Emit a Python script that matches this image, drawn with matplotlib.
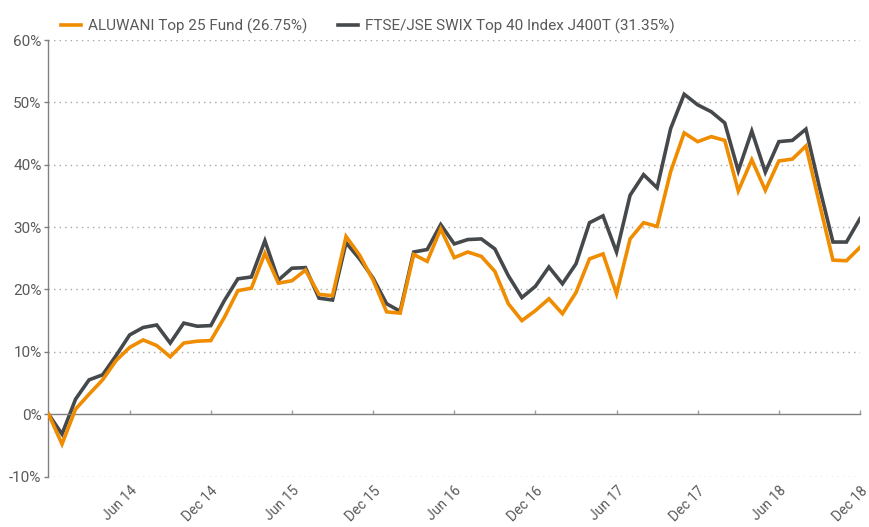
import numpy as np
import matplotlib
matplotlib.use("Agg")
import matplotlib.pyplot as plt

# ─── Dati (rendimento cumulato %, mensile Dic 2013 – Dic 2018) ───────────────
fund_label  = "ALUWANI Top 25 Fund (26.75%)"
index_label = "FTSE/JSE SWIX Top 40 Index J400T (31.35%)"

fund = [
    0.0, -4.8, 0.8, 3.2, 5.5, 8.6, 10.7, 11.9, 11.0, 9.2, 11.4, 11.7, 11.8,
    15.5, 19.8, 20.2, 25.8, 21.0, 21.4, 23.1, 19.2, 19.0, 28.5, 25.5, 21.5,
    16.4, 16.2, 25.6, 24.5, 29.7, 25.1, 26.0, 25.3, 22.9, 17.7, 15.0, 16.6,
    18.5, 16.1, 19.5, 24.9, 25.7, 19.3, 28.1, 30.7, 30.1, 38.9, 45.1, 43.7,
    44.5, 43.9, 35.8, 40.8, 35.9, 40.6, 40.9, 43.0, 33.8, 24.7, 24.6, 26.75,
]
index = [
    0.0, -3.2, 2.4, 5.5, 6.3, 9.4, 12.7, 13.9, 14.3, 11.4, 14.6, 14.1, 14.2,
    18.2, 21.7, 22.0, 27.8, 21.5, 23.4, 23.5, 18.6, 18.3, 27.5, 24.9, 21.8,
    17.7, 16.5, 26.0, 26.4, 30.4, 27.3, 28.0, 28.1, 26.5, 22.2, 18.7, 20.5,
    23.6, 20.9, 24.1, 30.7, 31.8, 26.0, 35.1, 38.4, 36.3, 45.8, 51.3, 49.6,
    48.5, 46.7, 39.0, 45.4, 38.8, 43.7, 43.9, 45.7, 36.4, 27.6, 27.6, 31.35,
]
months = np.arange(len(fund))

tick_pos    = [6, 12, 18, 24, 30, 36, 42, 48, 54, 60]
tick_labels = ["Jun 14", "Dec 14", "Jun 15", "Dec 15", "Jun 16",
               "Dec 16", "Jun 17", "Dec 17", "Jun 18", "Dec 18"]
y_ticks     = [-10, 0, 10, 20, 30, 40, 50, 60]

ORANGE = "#F08C00"
GREY   = "#45494C"
TEXT   = "#595959"

plt.rcParams.update({
    "font.family": ["Roboto", "DejaVu Sans"],
    "text.color":  TEXT,
})

fig = plt.figure(figsize=(8.70, 5.27), dpi=100)
ax = fig.add_axes([48.5 / 870, 50.5 / 527, 811.5 / 870, 436.5 / 527])

# ── griglia tratteggiata
for v in y_ticks:
    if v != 0:
        ax.axhline(v, color="#a6a6a6", lw=1.0, ls=(0, (1, 3)), zorder=1)

# ── serie
ax.plot(months, fund, color=ORANGE, lw=2.6, zorder=3,
        solid_joinstyle="miter", label=fund_label)
ax.plot(months, index, color=GREY, lw=2.6, zorder=2,
        solid_joinstyle="miter", label=index_label)

ax.set_xlim(0, 60)
ax.set_ylim(-10, 60)

# ── assi
for s in ["top", "right"]:
    ax.spines[s].set_visible(False)
ax.spines["left"].set_color("#808080")
ax.spines["left"].set_linewidth(1.0)
ax.spines["bottom"].set_position(("data", 0))
ax.spines["bottom"].set_color("#808080")
ax.spines["bottom"].set_linewidth(1.0)
ax.spines["bottom"].set_zorder(2.5)

ax.set_yticks(y_ticks)
ax.set_yticklabels([f"{v}%" for v in y_ticks], fontsize=11, color=TEXT)
ax.tick_params(axis="y", length=3, width=1, color="#808080", pad=2)

ax.set_xticks(tick_pos)
ax.set_xticklabels(tick_labels, fontsize=10, color=TEXT,
                   rotation=45, ha="right", rotation_mode="anchor")
ax.tick_params(axis="x", length=3, width=1, direction="in",
               color="#a0a0a0", pad=50)

# ── legenda sopra il grafico
ax.legend(loc="lower left", bbox_to_anchor=(0.008, 1.0), ncol=2,
          frameon=False, fontsize=11, handlelength=1.3,
          handletextpad=0.45, columnspacing=2.0, borderaxespad=0.4,
          borderpad=0.0)

fig.savefig("out.png", dpi=100)
